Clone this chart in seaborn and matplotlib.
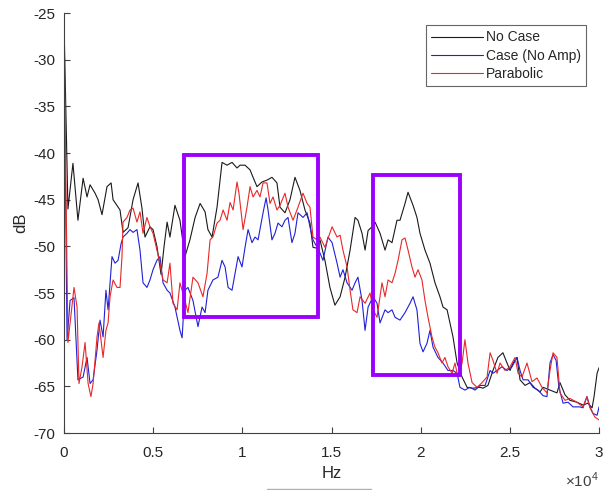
import numpy as np
import pandas as pd
import seaborn as sns
import matplotlib.pyplot as plt
from matplotlib.patches import Rectangle
from matplotlib.lines import Line2D
from matplotlib.ticker import FuncFormatter

# series values (frequency in kHz, level in dB)
no_case_khz = [0.00, 0.22, 0.50, 0.78, 1.07, 1.29, 1.46, 1.74, 1.91, 2.13, 2.41, 2.64, 2.75, 3.14, 3.31, 3.59,
               3.87, 4.15, 4.37, 4.54, 4.82, 4.99, 5.21, 5.44, 5.61, 5.78, 5.94, 6.22, 6.50, 6.78, 7.06, 7.35,
               7.63, 7.91, 8.07, 8.30, 8.58, 8.86, 9.14, 9.42, 9.70, 9.87, 10.15, 10.43, 10.60, 10.82, 11.10,
               11.38, 11.66, 11.94, 12.11, 12.39, 12.67, 12.95, 13.23, 13.51, 13.79, 13.96, 14.19, 14.35,
               14.63, 14.91, 15.19, 15.48, 15.76, 16.04, 16.32, 16.48, 16.71, 16.88, 17.05, 17.27, 17.44,
               17.72, 18.00, 18.17, 18.39, 18.67, 18.84, 19.12, 19.29, 19.57, 19.79, 19.96, 20.24, 20.52,
               20.80, 21.08, 21.25, 21.48, 21.64, 21.81, 22.04, 22.32, 22.60, 22.93, 23.33, 23.49, 23.77,
               24.05, 24.33, 24.61, 24.84, 25.01, 25.18, 25.40, 25.57, 25.85, 26.13, 26.41, 26.69, 26.86,
               27.25, 27.64, 27.81, 28.09, 28.37, 28.76, 29.10, 29.38, 29.61, 29.72, 29.89, 30.00]
no_case_db = [-26.1, -46.0, -41.1, -47.2, -42.7, -44.7, -43.4, -44.3, -45.0, -46.6, -43.6, -43.2, -45.0, -46.1,
              -48.5, -48.0, -45.0, -43.2, -45.9, -49.0, -47.9, -48.2, -50.0, -53.0, -50.0, -47.4, -49.0, -45.6,
              -47.2, -51.1, -49.3, -46.9, -45.4, -46.3, -48.2, -49.0, -45.8, -41.0, -41.3, -41.0, -41.6, -41.3,
              -41.3, -41.8, -42.6, -43.6, -43.1, -42.9, -42.6, -43.2, -45.8, -46.4, -45.0, -42.6, -44.0, -46.1,
              -47.5, -50.1, -50.2, -49.3, -51.5, -54.4, -56.3, -55.4, -53.3, -50.4, -46.9, -47.2, -48.6, -50.4,
              -48.3, -47.9, -47.4, -48.6, -50.4, -49.3, -49.6, -47.2, -47.2, -45.4, -44.2, -45.6, -46.9, -48.6,
              -50.4, -51.8, -53.9, -55.4, -56.5, -56.8, -58.2, -59.7, -62.5, -64.0, -65.1, -65.2, -65.1, -65.2,
              -64.9, -63.3, -61.9, -61.4, -62.5, -63.3, -62.5, -61.9, -64.3, -64.9, -64.6, -65.2, -65.6, -65.1,
              -65.4, -65.7, -64.6, -65.9, -66.5, -66.7, -67.0, -66.8, -67.3, -66.1, -63.6, -63.0]

case_khz = [0.00, 0.17, 0.34, 0.56, 0.78, 1.07, 1.29, 1.46, 1.63, 1.85, 2.02, 2.19, 2.35, 2.47, 2.69, 2.86,
            3.03, 3.20, 3.31, 3.53, 3.70, 3.87, 4.09, 4.26, 4.43, 4.65, 4.82, 4.99, 5.21, 5.38, 5.55, 5.78,
            5.94, 6.22, 6.50, 6.62, 6.78, 6.95, 7.23, 7.51, 7.74, 7.91, 8.07, 8.35, 8.63, 8.86, 9.03, 9.20,
            9.42, 9.59, 9.76, 9.98, 10.15, 10.32, 10.54, 10.71, 10.88, 11.16, 11.33, 11.44, 11.66, 11.83,
            12.00, 12.22, 12.39, 12.56, 12.78, 12.95, 13.12, 13.40, 13.63, 13.79, 13.96, 14.19, 14.35, 14.52,
            14.80, 15.03, 15.31, 15.48, 15.64, 15.87, 16.15, 16.32, 16.48, 16.71, 16.88, 17.05, 17.33, 17.55,
            17.72, 18.00, 18.17, 18.39, 18.56, 18.84, 19.12, 19.40, 19.57, 19.79, 19.96, 20.13, 20.35, 20.52,
            20.69, 20.97, 21.25, 21.53, 21.81, 22.04, 22.20, 22.48, 22.76, 23.05, 23.33, 23.61, 23.89, 24.05,
            24.28, 24.56, 24.84, 25.12, 25.40, 25.57, 25.74, 26.02, 26.30, 26.58, 26.86, 27.08, 27.25, 27.42,
            27.59, 27.75, 27.98, 28.26, 28.54, 28.93, 29.10, 29.32, 29.49, 29.66, 29.89, 30.00]
case_db = [-28.0, -60.0, -55.8, -55.5, -64.3, -64.0, -61.9, -64.7, -64.3, -61.1, -57.9, -59.7, -54.7, -56.8,
           -51.1, -51.8, -51.5, -49.7, -49.0, -48.6, -48.2, -48.5, -48.2, -50.4, -53.9, -54.4, -53.6, -52.5,
           -51.5, -51.1, -53.9, -54.7, -55.0, -56.5, -59.0, -59.8, -54.7, -54.4, -55.8, -58.6, -56.5, -57.1,
           -54.7, -53.6, -53.3, -51.5, -52.2, -54.4, -54.7, -52.9, -51.1, -52.2, -50.1, -48.2, -49.6, -49.0,
           -49.3, -46.4, -44.8, -46.1, -49.3, -48.6, -47.5, -47.9, -47.2, -46.9, -49.6, -48.6, -46.4, -46.9,
           -46.4, -47.9, -49.3, -50.1, -50.7, -51.5, -49.0, -49.6, -51.8, -53.3, -52.5, -53.9, -54.7, -53.9,
           -53.3, -55.8, -59.0, -56.5, -55.4, -56.1, -58.2, -56.8, -57.1, -56.8, -57.6, -57.9, -57.1, -56.1,
           -55.4, -56.8, -60.4, -61.3, -60.4, -59.0, -60.8, -61.9, -62.5, -63.3, -63.3, -63.6, -65.1, -65.4,
           -65.1, -65.4, -64.9, -64.9, -63.3, -63.6, -63.3, -62.9, -63.3, -62.9, -61.9, -63.3, -64.3, -64.3,
           -65.1, -65.4, -66.0, -66.1, -62.5, -61.6, -62.2, -65.1, -66.8, -66.7, -67.2, -67.2, -67.3, -66.1,
           -67.2, -67.9, -68.1, -67.2]

parabolic_khz = [0.00, 0.22, 0.56, 0.73, 0.84, 1.01, 1.18, 1.35, 1.51, 1.63, 1.85, 1.96, 2.19, 2.35, 2.47,
                 2.58, 2.75, 2.97, 3.14, 3.25, 3.31, 3.53, 3.70, 3.87, 4.09, 4.26, 4.43, 4.65, 4.82, 4.99,
                 5.21, 5.38, 5.55, 5.78, 5.94, 6.11, 6.34, 6.50, 6.78, 6.95, 7.23, 7.51, 7.79, 8.02, 8.19,
                 8.35, 8.58, 8.75, 8.92, 9.14, 9.31, 9.48, 9.70, 9.81, 10.04, 10.26, 10.43, 10.60, 10.82,
                 10.99, 11.16, 11.38, 11.55, 11.72, 11.94, 12.11, 12.39, 12.56, 12.84, 13.12, 13.40, 13.63,
                 13.79, 13.96, 14.19, 14.35, 14.63, 15.03, 15.31, 15.48, 15.64, 15.87, 16.04, 16.20, 16.43,
                 16.60, 16.88, 17.16, 17.33, 17.55, 17.83, 18.00, 18.17, 18.39, 18.56, 18.73, 18.95, 19.12,
                 19.29, 19.51, 19.68, 19.85, 20.07, 20.24, 20.41, 20.63, 20.80, 20.97, 21.19, 21.36, 21.53,
                 21.76, 21.92, 22.09, 22.32, 22.48, 22.65, 22.88, 23.16, 23.44, 23.72, 23.89, 24.05, 24.28,
                 24.45, 24.73, 25.01, 25.29, 25.46, 25.68, 25.96, 26.24, 26.52, 26.80, 27.08, 27.25, 27.42,
                 27.64, 27.81, 28.09, 28.37, 28.76, 29.10, 29.32, 29.49, 29.77, 30.00]
parabolic_db = [-27.6, -60.3, -54.4, -56.5, -64.7, -62.9, -60.3, -64.7, -66.1, -64.7, -59.7, -58.2, -61.9,
                -59.0, -58.2, -55.4, -53.6, -54.4, -54.4, -51.1, -47.4, -46.9, -46.1, -45.9, -47.4, -46.3,
                -48.6, -46.9, -47.9, -48.6, -50.4, -51.8, -53.6, -53.9, -51.8, -56.1, -56.8, -53.9, -55.8,
                -57.1, -53.3, -53.9, -55.4, -52.9, -49.3, -49.0, -47.5, -47.2, -46.1, -47.2, -45.3, -46.1,
                -43.1, -44.3, -48.2, -45.8, -43.6, -44.7, -44.0, -44.7, -43.2, -43.2, -45.4, -44.7, -46.1,
                -45.6, -44.3, -45.8, -47.2, -45.8, -44.3, -45.4, -45.8, -49.0, -49.3, -49.0, -50.1, -47.9,
                -49.0, -48.8, -50.4, -52.2, -54.7, -56.8, -57.1, -55.4, -56.1, -55.0, -56.8, -57.6, -53.9,
                -55.4, -53.6, -53.9, -52.9, -51.5, -49.3, -49.1, -50.4, -52.2, -53.3, -52.5, -53.6, -55.8,
                -57.6, -59.7, -60.8, -61.4, -62.5, -61.9, -62.9, -63.6, -62.5, -64.0, -62.5, -60.0, -62.5,
                -64.6, -65.1, -64.6, -64.0, -61.4, -62.2, -63.6, -62.5, -63.3, -62.9, -61.9, -63.6, -64.0,
                -62.5, -64.5, -64.1, -65.1, -65.7, -63.3, -61.4, -61.9, -65.7, -66.5, -66.3, -66.7, -67.2,
                -66.1, -67.3, -68.3, -68.6]

series_names = ["No Case", "Case (No Amp)", "Parabolic"]
series_colors = ["#1a1a1a", "#2020d8", "#e82828"]

# highlighted regions: (start kHz, end kHz), (low dB, high dB)
box_khz = [(6.73, 14.24), (17.33, 22.20)]
box_db = [(-57.6, -40.2), (-63.8, -42.4)]

frames = []
for name, f, d in zip(series_names, [no_case_khz, case_khz, parabolic_khz],
                      [no_case_db, case_db, parabolic_db]):
    frames.append(pd.DataFrame({"Hz": np.array(f) * 1000, "dB": d, "series": name}))
df = pd.concat(frames, ignore_index=True)

sns.set_style("ticks")
plt.rcParams["font.family"] = ["Liberation Sans", "DejaVu Sans"]
plt.rcParams["axes.unicode_minus"] = False
plt.rcParams["mathtext.fontset"] = "custom"
plt.rcParams["mathtext.rm"] = "Liberation Sans"

fig = plt.figure(figsize=(6.04, 4.9), dpi=100)
ax = fig.add_axes([0.106, 0.1163, 0.8858, 0.857])

sns.lineplot(data=df, x="Hz", y="dB", hue="series", hue_order=series_names,
             palette=dict(zip(series_names, series_colors)), estimator=None, sort=False,
             linewidth=0.8, ax=ax)

for (x0, x1), (y0, y1) in zip(box_khz, box_db):
    ax.add_patch(Rectangle((x0 * 1000, y0), (x1 - x0) * 1000, y1 - y0, fill=False,
                           edgecolor="#9b00ff", linewidth=2.8, zorder=5))

ax.set_xlim(0, 30000)
ax.set_ylim(-70, -25)
ax.set_xticks(np.arange(0, 30001, 5000))
ax.set_yticks(np.arange(-70, -24, 5))
ax.xaxis.set_major_formatter(FuncFormatter(lambda v, p: f"{v / 1e4:g}"))
ax.tick_params(direction="in", length=4, width=0.8, labelsize=11, colors="#404040",
               labelcolor="#262626")
ax.tick_params(axis="x", pad=9)
ax.tick_params(axis="y", pad=6)
sns.despine(ax=ax)
for s in ["left", "bottom"]:
    ax.spines[s].set_color("#404040")
    ax.spines[s].set_linewidth(0.8)

ax.text(1.0, -0.112, r"$\times$10$^{4}$", transform=ax.transAxes, ha="right", va="center",
        fontsize=11, color="#404040")

ax.set_xlabel("Hz", fontsize=12, color="#262626", labelpad=5)
ax.set_ylabel("dB", fontsize=12, color="#262626", labelpad=4)

handles = [Line2D([], [], color=c, lw=0.8) for c in series_colors]
leg = ax.legend(handles, series_names, loc="upper right", bbox_to_anchor=(0.976, 0.972),
                fontsize=10, frameon=True, fancybox=False, framealpha=1, edgecolor="#666666",
                handlelength=3.7, handletextpad=0.2, labelspacing=0.3, borderpad=0.4,
                borderaxespad=0)
leg.get_frame().set_linewidth(0.8)

# stray grey rule under the axis label in the original image
fig.add_artist(Line2D([0.442, 0.614], [0.003, 0.003], color="#b0b0b0", lw=1))

fig.savefig("out.png", dpi=100)
